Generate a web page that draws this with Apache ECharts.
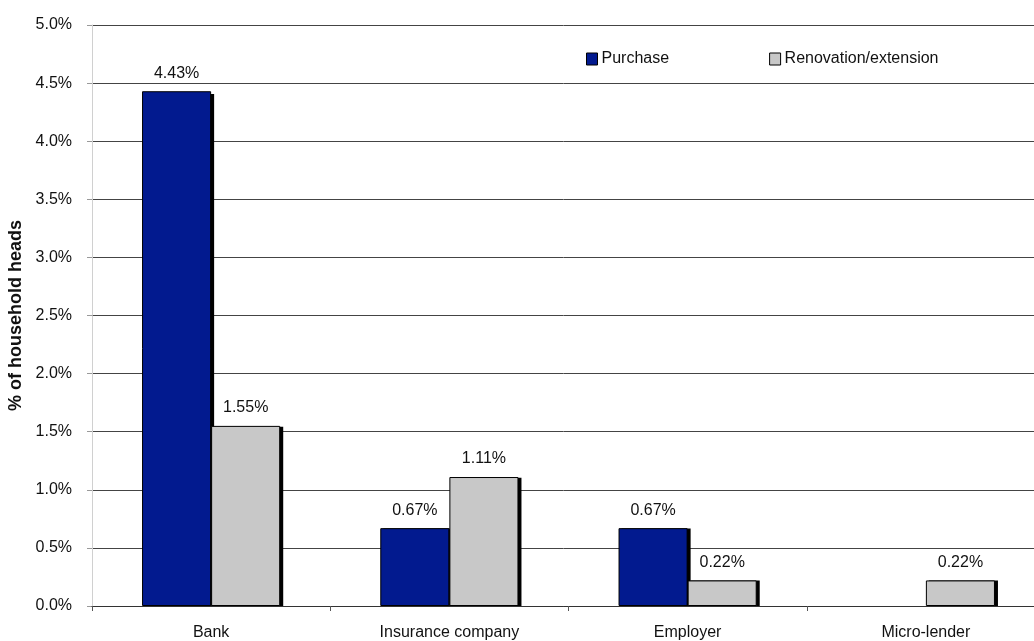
<!DOCTYPE html>
<html>
<head>
<meta charset="utf-8">
<script src="https://cdn.jsdelivr.net/npm/echarts@6/dist/echarts.min.js"></script>
<style>
  html, body { margin: 0; padding: 0; background: #fff; }
  #chart { width: 1034px; height: 641px; }
</style>
</head>
<body>
<div id="chart"></div>
<script>
// Lenders and share of household heads holding each type of housing loan (%)
const categories = ['Bank', 'Insurance company', 'Employer', 'Micro-lender'];
const purchase = [4.43, 0.67, 0.67, null];
const renovation = [1.55, 1.11, 0.22, 0.22];
const seriesNames = ['Purchase', 'Renovation/extension'];

const FONT = '"Liberation Sans", Arial, sans-serif';
const GAP = '42%';

const chart = echarts.init(document.getElementById('chart'), null, { renderer: 'canvas' });

// Visible bars on the main grid
function barSeries(name, data, color) {
  return {
    name: name,
    type: 'bar',
    data: data,
    z: 3,
    barGap: '0%',
    barCategoryGap: GAP,
    itemStyle: { color: color, borderColor: '#000', borderWidth: 1 },
    emphasis: { disabled: true },
    label: {
      show: true,
      position: 'top',
      distance: 10,
      fontFamily: FONT,
      fontSize: 16,
      color: '#111',
      formatter: p => (p.value == null ? '' : p.value.toFixed(2) + '%')
    }
  };
}

// Solid drop shadows: the same bars on a grid nudged right and down
function shadowSeries(data) {
  return {
    type: 'bar',
    data: data,
    xAxisIndex: 1,
    yAxisIndex: 1,
    z: 1,
    silent: true,
    barGap: '0%',
    barCategoryGap: GAP,
    itemStyle: { color: '#000' },
    label: { show: false },
    emphasis: { disabled: true },
    tooltip: { show: false }
  };
}

const hiddenAxis = {
  show: false, axisLine: { show: false }, axisTick: { show: false },
  axisLabel: { show: false }, splitLine: { show: false }
};

chart.setOption({
  animation: false,
  backgroundColor: '#fff',
  grid: [
    { left: 92, top: 25, width: 953, height: 581, outerBoundsMode: 'none', containLabel: false },
    { left: 95, top: 28, width: 953, height: 578, outerBoundsMode: 'none', containLabel: false }
  ],
  legend: {
    data: seriesNames,
    left: 581,
    top: 46,
    itemWidth: 11,
    itemHeight: 12,
    itemGap: 100,
    icon: 'rect',
    itemStyle: { borderColor: '#000', borderWidth: 1 },
    textStyle: { fontFamily: FONT, fontSize: 16, color: '#111', padding: [0, 0, 0, -1] }
  },
  xAxis: [
    {
      type: 'category',
      data: categories,
      gridIndex: 0,
      z: 5,
      axisLine: { lineStyle: { color: '#333', width: 1 } },
      axisTick: { show: true, length: 5, inside: false, lineStyle: { color: '#555' } },
      axisLabel: { fontFamily: FONT, fontSize: 16, color: '#111', margin: 19 },
      splitLine: { show: false }
    },
    Object.assign({ type: 'category', data: categories, gridIndex: 1 }, hiddenAxis)
  ],
  yAxis: [
    {
      type: 'value',
      gridIndex: 0,
      min: 0,
      max: 5,
      interval: 0.5,
      name: '% of household heads',
      nameLocation: 'middle',
      nameRotate: 90,
      nameGap: 65,
      nameTextStyle: { fontFamily: FONT, fontSize: 18, fontWeight: 'bold', color: '#111' },
      axisLine: { show: true, lineStyle: { color: '#d0d0d0', width: 1 } },
      axisTick: { show: true, length: 5, lineStyle: { color: '#999' } },
      axisLabel: {
        fontFamily: FONT, fontSize: 16, color: '#111', margin: 20,
        formatter: v => v.toFixed(1) + '%'
      },
      splitLine: { show: true, lineStyle: { color: '#444', width: 1 } }
    },
    Object.assign({ type: 'value', gridIndex: 1, min: 0, max: 5 }, hiddenAxis)
  ],
  series: [
    shadowSeries(purchase),
    shadowSeries(renovation),
    barSeries(seriesNames[0], purchase, '#021a8f'),
    barSeries(seriesNames[1], renovation, '#c8c8c8')
  ]
});
</script>
</body>
</html>
